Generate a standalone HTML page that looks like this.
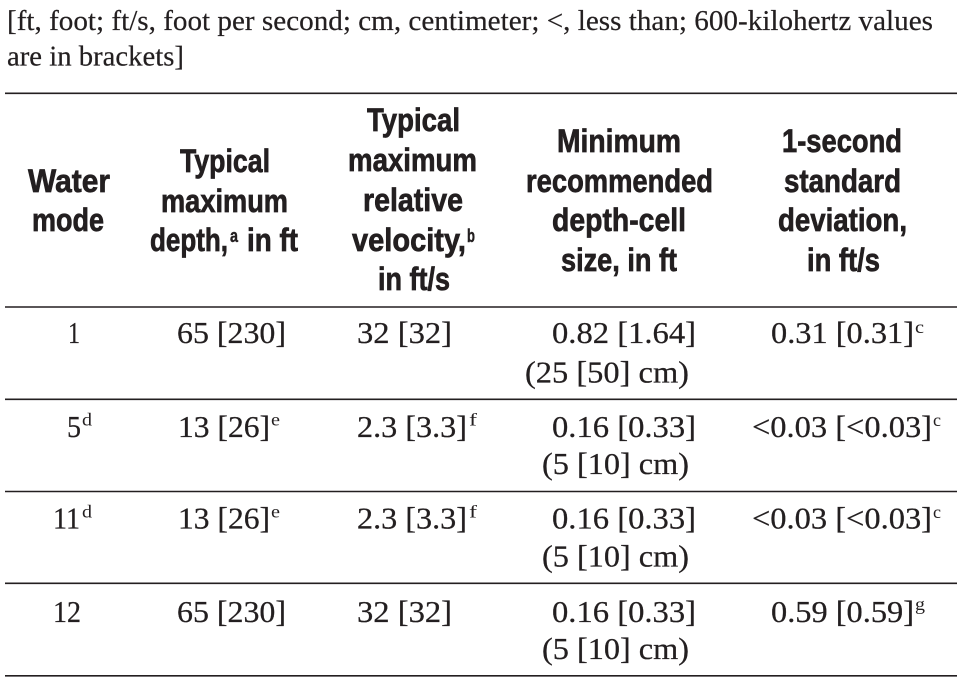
<!DOCTYPE html>
<html>
<head>
<meta charset="utf-8">
<style>
  html, body { margin: 0; padding: 0; background: #ffffff; }
  body { width: 968px; height: 686px; overflow: hidden; }
  svg { display: block; }
  .cap { font-family: "Liberation Serif", serif; font-size: 28px; fill: #231f20; stroke: #231f20; stroke-width: 0.2px; }
  .hd { font-family: "Liberation Sans", sans-serif; font-weight: bold; font-size: 32.5px; fill: #231f20; stroke: #231f20; stroke-width: 0.7px; }
  .hs { font-family: "Liberation Sans", sans-serif; font-weight: bold; font-size: 18px; fill: #231f20; stroke: #231f20; stroke-width: 0.4px; }
  .bd { font-family: "Liberation Serif", serif; font-size: 31px; fill: #231f20; stroke: #231f20; stroke-width: 0.25px; }
  .sp { font-family: "Liberation Serif", serif; font-size: 17.5px; fill: #231f20; }
</style>
</head>
<body>
<svg width="968" height="686" viewBox="0 0 968 686" xmlns="http://www.w3.org/2000/svg">
  <rect x="0" y="0" width="968" height="686" fill="#ffffff"/>

  <!-- Caption -->
  <text class="cap" x="7" y="30" textLength="926" lengthAdjust="spacingAndGlyphs">[ft, foot; ft/s, foot per second; cm, centimeter; &lt;, less than; 600-kilohertz values</text>
  <text class="cap" x="7" y="65.5" textLength="177" lengthAdjust="spacingAndGlyphs">are in brackets]</text>

  <!-- Rules -->
  <g stroke="#231f20" stroke-width="1.6">
    <line x1="5" y1="93.3" x2="957" y2="93.3"/>
    <line x1="5" y1="307" x2="957" y2="307"/>
    <line x1="5" y1="399.3" x2="957" y2="399.3"/>
    <line x1="5" y1="491.5" x2="957" y2="491.5"/>
    <line x1="5" y1="583.3" x2="957" y2="583.3"/>
    <line x1="5" y1="675.8" x2="957" y2="675.8"/>
  </g>

  <!-- Header col 1 -->
  <text class="hd" x="28" y="192" textLength="82" lengthAdjust="spacingAndGlyphs">Water</text>
  <text class="hd" x="32" y="231" textLength="72" lengthAdjust="spacingAndGlyphs">mode</text>

  <!-- Header col 2 -->
  <text class="hd" x="180" y="172" textLength="90" lengthAdjust="spacingAndGlyphs">Typical</text>
  <text class="hd" x="161" y="212" textLength="127" lengthAdjust="spacingAndGlyphs">maximum</text>
  <text class="hd" x="150" y="251" textLength="78" lengthAdjust="spacingAndGlyphs">depth,</text>
  <text class="hs" x="230" y="242" textLength="8" lengthAdjust="spacingAndGlyphs">a</text>
  <text class="hd" x="247" y="251" textLength="51" lengthAdjust="spacingAndGlyphs">in ft</text>

  <!-- Header col 3 -->
  <text class="hd" x="367" y="131" textLength="93" lengthAdjust="spacingAndGlyphs">Typical</text>
  <text class="hd" x="348" y="171" textLength="129" lengthAdjust="spacingAndGlyphs">maximum</text>
  <text class="hd" x="363" y="211" textLength="100" lengthAdjust="spacingAndGlyphs">relative</text>
  <text class="hd" x="352" y="251" textLength="114" lengthAdjust="spacingAndGlyphs">velocity,</text>
  <text class="hs" x="467" y="242" textLength="8" lengthAdjust="spacingAndGlyphs">b</text>
  <text class="hd" x="378" y="290" textLength="72" lengthAdjust="spacingAndGlyphs">in ft/s</text>

  <!-- Header col 4 -->
  <text class="hd" x="557" y="152" textLength="124" lengthAdjust="spacingAndGlyphs">Minimum</text>
  <text class="hd" x="526" y="192" textLength="187" lengthAdjust="spacingAndGlyphs">recommended</text>
  <text class="hd" x="552" y="231" textLength="134" lengthAdjust="spacingAndGlyphs">depth-cell</text>
  <text class="hd" x="561" y="271" textLength="116" lengthAdjust="spacingAndGlyphs">size, in ft</text>

  <!-- Header col 5 -->
  <text class="hd" x="782" y="152" textLength="120" lengthAdjust="spacingAndGlyphs">1-second</text>
  <text class="hd" x="784" y="192" textLength="117" lengthAdjust="spacingAndGlyphs">standard</text>
  <text class="hd" x="778" y="231" textLength="129" lengthAdjust="spacingAndGlyphs">deviation,</text>
  <text class="hd" x="807" y="271" textLength="73" lengthAdjust="spacingAndGlyphs">in ft/s</text>

  <!-- Row 1 -->
  <text class="bd" x="68" y="343" textLength="12" lengthAdjust="spacingAndGlyphs">1</text>
  <text class="bd" x="177" y="343" textLength="109" lengthAdjust="spacingAndGlyphs">65 [230]</text>
  <text class="bd" x="357" y="343" textLength="95" lengthAdjust="spacingAndGlyphs">32 [32]</text>
  <text class="bd" x="552" y="343" textLength="144" lengthAdjust="spacingAndGlyphs">0.82 [1.64]</text>
  <text class="bd" x="525" y="382.5" textLength="164" lengthAdjust="spacingAndGlyphs">(25 [50] cm)</text>
  <text class="bd" x="771" y="343" textLength="143" lengthAdjust="spacingAndGlyphs">0.31 [0.31]</text>
  <text class="sp" x="915" y="333" textLength="9" lengthAdjust="spacingAndGlyphs">c</text>

  <!-- Row 2 -->
  <text class="bd" x="67" y="437" textLength="14" lengthAdjust="spacingAndGlyphs">5</text>
  <text class="sp" x="82" y="425.5" textLength="10" lengthAdjust="spacingAndGlyphs">d</text>
  <text class="bd" x="178" y="437" textLength="92" lengthAdjust="spacingAndGlyphs">13 [26]</text>
  <text class="sp" x="271" y="425.5" textLength="9" lengthAdjust="spacingAndGlyphs">e</text>
  <text class="bd" x="357" y="437" textLength="110" lengthAdjust="spacingAndGlyphs">2.3 [3.3]</text>
  <text class="sp" x="469" y="425.5" textLength="8" lengthAdjust="spacingAndGlyphs">f</text>
  <text class="bd" x="552" y="437" textLength="144" lengthAdjust="spacingAndGlyphs">0.16 [0.33]</text>
  <text class="bd" x="542" y="474" textLength="147" lengthAdjust="spacingAndGlyphs">(5 [10] cm)</text>
  <text class="bd" x="752" y="437" textLength="180" lengthAdjust="spacingAndGlyphs">&lt;0.03 [&lt;0.03]</text>
  <text class="sp" x="933" y="426" textLength="8" lengthAdjust="spacingAndGlyphs">c</text>

  <!-- Row 3 -->
  <text class="bd" x="53" y="528.5" textLength="27" lengthAdjust="spacingAndGlyphs">11</text>
  <text class="sp" x="82" y="517.5" textLength="10" lengthAdjust="spacingAndGlyphs">d</text>
  <text class="bd" x="178" y="528.5" textLength="92" lengthAdjust="spacingAndGlyphs">13 [26]</text>
  <text class="sp" x="271" y="517.5" textLength="9" lengthAdjust="spacingAndGlyphs">e</text>
  <text class="bd" x="357" y="528.5" textLength="110" lengthAdjust="spacingAndGlyphs">2.3 [3.3]</text>
  <text class="sp" x="469" y="517.5" textLength="8" lengthAdjust="spacingAndGlyphs">f</text>
  <text class="bd" x="552" y="528.5" textLength="144" lengthAdjust="spacingAndGlyphs">0.16 [0.33]</text>
  <text class="bd" x="542" y="566.5" textLength="147" lengthAdjust="spacingAndGlyphs">(5 [10] cm)</text>
  <text class="bd" x="752" y="528.5" textLength="180" lengthAdjust="spacingAndGlyphs">&lt;0.03 [&lt;0.03]</text>
  <text class="sp" x="933" y="518" textLength="8" lengthAdjust="spacingAndGlyphs">c</text>

  <!-- Row 4 -->
  <text class="bd" x="53" y="622" textLength="28" lengthAdjust="spacingAndGlyphs">12</text>
  <text class="bd" x="177" y="622" textLength="109" lengthAdjust="spacingAndGlyphs">65 [230]</text>
  <text class="bd" x="357" y="622" textLength="95" lengthAdjust="spacingAndGlyphs">32 [32]</text>
  <text class="bd" x="552" y="622" textLength="144" lengthAdjust="spacingAndGlyphs">0.16 [0.33]</text>
  <text class="bd" x="542" y="659" textLength="147" lengthAdjust="spacingAndGlyphs">(5 [10] cm)</text>
  <text class="bd" x="771" y="622" textLength="143" lengthAdjust="spacingAndGlyphs">0.59 [0.59]</text>
  <text class="sp" x="915" y="610" textLength="10" lengthAdjust="spacingAndGlyphs">g</text>
</svg>
</body>
</html>
